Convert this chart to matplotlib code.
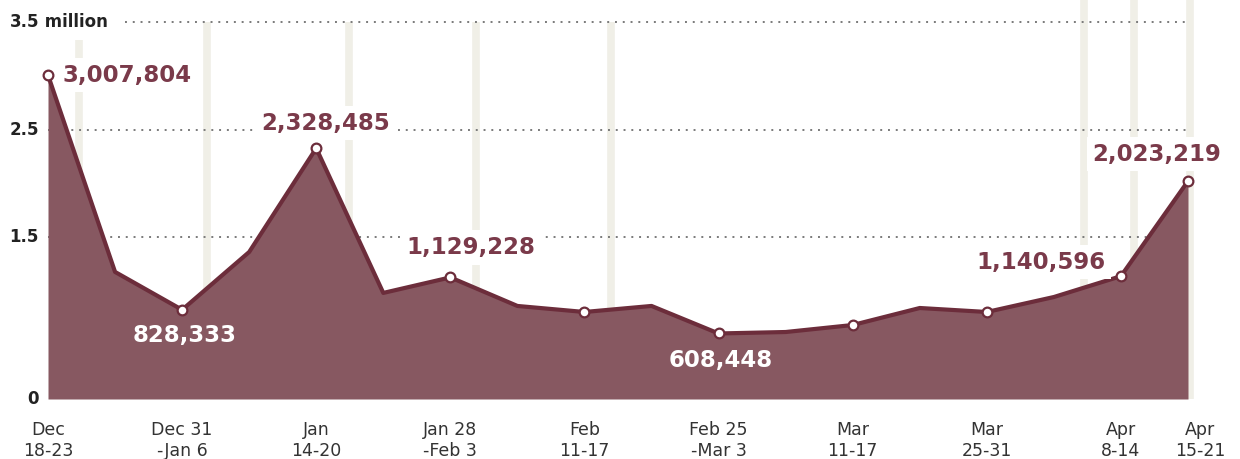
import matplotlib.pyplot as plt
from matplotlib.transforms import ScaledTranslation

plt.rcParams['font.family'] = ['DejaVu Sans']

# weekly totals, Dec 18-23 through Apr 15-21
weeks = ['Dec 18-23', 'Dec 24-30', 'Dec 31-Jan 6', 'Jan 7-13', 'Jan 14-20', 'Jan 21-27',
         'Jan 28-Feb 3', 'Feb 4-10', 'Feb 11-17', 'Feb 18-24', 'Feb 25-Mar 3', 'Mar 4-10',
         'Mar 11-17', 'Mar 18-24', 'Mar 25-31', 'Apr 1-7', 'Apr 8-14', 'Apr 15-21']
values = [3007804, 1180000, 828333, 1365000, 2328485, 985000, 1129228, 864000, 808000,
          864000, 608448, 622000, 687000, 845000, 808000, 947000, 1140596, 2023219]

tick_idx = [0, 2, 4, 6, 8, 10, 12, 14, 16, 17]
tick_labels = ['Dec\n18-23', 'Dec 31\n-Jan 6', 'Jan\n14-20', 'Jan 28\n-Feb 3', 'Feb\n11-17',
               'Feb 25\n-Mar 3', 'Mar\n11-17', 'Mar\n25-31', 'Apr\n8-14', 'Apr\n15-21']
marker_idx = [0, 2, 4, 6, 8, 10, 12, 14, 16, 17]

# which points get a number, and where (pixels from the point, colour)
callouts = {0: (15, 0, 'left', 'dark'),
            2: (3, -26, 'center', 'light'),
            4: (9, 25, 'center', 'dark'),
            6: (20, 30, 'center', 'dark'),
            10: (2, -27, 'center', 'light'),
            16: (-80, 14, 'center', 'dark'),
            17: (-31, 27, 'center', 'dark')}

yticks = [0, 1.5, 2.5, 3.5]

fill_col = '#875861'
edge_col = '#6c2d3b'
label_col = '#7a3a4a'

fig = plt.figure(figsize=(12.4, 4.59), dpi=100)
ax = fig.add_axes([48 / 1240, 60 / 459, 1140 / 1240, 399 / 459])
ax.set_xlim(0, 17)
ax.set_ylim(0, 3.705)
ax.axis('off')

x = list(range(len(values)))
y = [v / 1e6 for v in values]

# pale vertical strips in the background
strips = [(0.46, 3.333), (2.37, 3.5), (4.49, 3.5), (6.38, 3.5), (8.39, 3.5),
          (15.45, 3.705), (16.19, 3.705), (17.03, 3.705)]
for sx, top in strips:
    ax.vlines(sx, 0, top, color='#f0efe7', linewidth=5.5, zorder=1, clip_on=False)

# dotted gridlines
for g in yticks[1:]:
    start = 0
    if g == 3.5:
        start = (125 - 48) / 1140
    ax.axhline(g, xmin=start, xmax=(1190 - 48) / 1140, color='#7a7a7a', linewidth=1.4,
               linestyle=(0, (1, 3)), zorder=2, clip_on=False)

ax.fill_between(x, y, 0, color=fill_col, linewidth=0, zorder=3)
ax.plot(x, y, color=edge_col, linewidth=3, solid_joinstyle='round', zorder=4, clip_on=False)
ax.plot([x[i] for i in marker_idx], [y[i] for i in marker_idx], 'o', markersize=7,
        markerfacecolor='white', markeredgecolor=edge_col, markeredgewidth=1.6,
        zorder=5, clip_on=False)

for i, (dx, dy, ha, tone) in callouts.items():
    txt = f'{values[i]:,}'
    if tone == 'dark':
        ax.annotate(txt, (x[i], y[i]), xytext=(dx, dy), textcoords='offset pixels',
                    ha=ha, va='center', fontsize=16.5, fontweight='bold', color=label_col,
                    bbox=dict(boxstyle='square,pad=0.25', fc='white', ec='none'),
                    zorder=6, annotation_clip=False)
    else:
        ax.annotate(txt, (x[i], y[i]), xytext=(dx, dy), textcoords='offset pixels',
                    ha=ha, va='center', fontsize=16.5, fontweight='bold', color='white',
                    zorder=6, annotation_clip=False)

# y axis labels
for t in yticks:
    lab = f'{t:g}'
    ax.text(-9 / 67.06, t, lab, ha='right', va='center', fontsize=12, fontweight='bold',
            color='#222222', clip_on=False)
ax.text(-9 / 67.06, 3.5, ' million', ha='left', va='center', fontsize=12, fontweight='bold',
        color='#222222', clip_on=False)

# x axis labels
for i, lab in zip(tick_idx, tick_labels):
    t = ax.text(x[i], -0.2, lab, ha='center', va='top', fontsize=12.5, color='#333333',
                linespacing=1.25, clip_on=False)
    if i == 17:
        t.set_transform(ax.transData + ScaledTranslation(0.12, 0, fig.dpi_scale_trans))

fig.savefig('out.png', dpi=100)
